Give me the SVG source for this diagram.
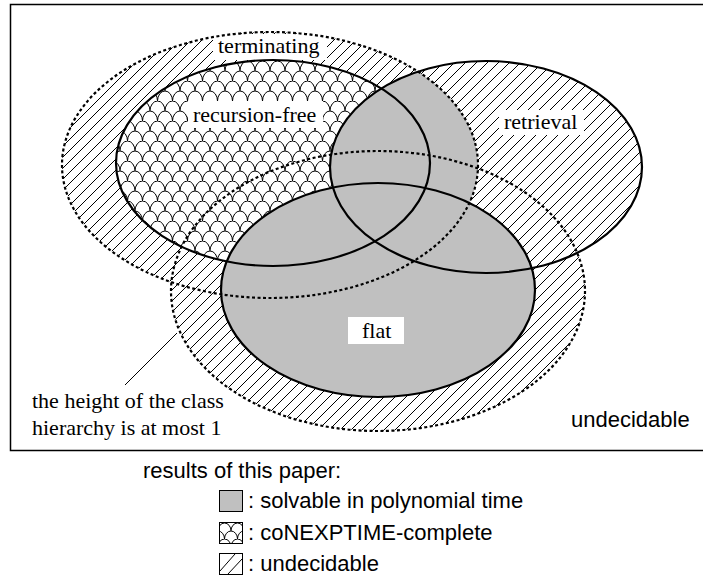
<svg xmlns="http://www.w3.org/2000/svg" width="703" height="587" viewBox="0 0 703 587">
<style>
.serif{font-family:"Liberation Serif","Times New Roman",serif;font-size:22px;fill:#000}
.sans{font-family:"Liberation Sans",Arial,sans-serif;font-size:22px;fill:#000}
.solid{fill:none;stroke:#000;stroke-width:2.2}
.dotted{fill:none;stroke:#000;stroke-width:2.2;stroke-dasharray:3 2.5}
.gray{fill:#c0c0c0}
.hatch{fill:url(#hatch)}
.scales{fill:url(#scales)}
.bg{fill:#fff}
</style>
<defs>
<pattern id="hatch" patternUnits="userSpaceOnUse" width="11" height="11">
<path d="M-1,12 L12,-1 M-1,1 L1,-1 M10,12 L12,10" stroke="#000" stroke-width="1" fill="none"/>
</pattern>
<pattern id="scales" patternUnits="userSpaceOnUse" width="15" height="20" x="0" y="1">
<rect width="15" height="20" fill="#fff"/>
<path d="M0,10 A7.5,10 0 0 1 15,10 M-7.5,20 A7.5,10 0 0 1 7.5,20 M7.5,20 A7.5,10 0 0 1 22.5,20" stroke="#000" stroke-width="1" fill="none"/>
</pattern>
<pattern id="scalesLeg" patternUnits="userSpaceOnUse" width="13" height="16" x="218" y="523">
<rect width="13" height="16" fill="#fff"/>
<path d="M0,8 A6.5,8 0 0 1 13,8 M-6.5,16 A6.5,8 0 0 1 6.5,16 M6.5,16 A6.5,8 0 0 1 19.5,16" stroke="#000" stroke-width="1" fill="none"/>
</pattern>
<clipPath id="clipTerm"><ellipse cx="270" cy="165" rx="208" ry="133"/></clipPath>
</defs>
<rect width="703" height="587" fill="#fff"/>
<rect x="10.5" y="4.5" width="700" height="446" fill="none" stroke="#000" stroke-width="1.5"/>

<g id="fills">
<ellipse class="hatch" cx="270" cy="165" rx="208" ry="133"/>
<ellipse class="hatch" cx="486" cy="167" rx="156" ry="106"/>
<ellipse class="hatch" cx="378" cy="291" rx="207" ry="140"/>
<ellipse class="scales" cx="273" cy="163" rx="157" ry="103"/>
<ellipse class="gray" cx="378" cy="290" rx="157" ry="107"/>
<ellipse class="gray" cx="486" cy="167" rx="156" ry="106" clip-path="url(#clipTerm)"/>
</g>

<g id="label-backgrounds">
<rect class="bg" x="213" y="34" width="114" height="26"/>
<rect class="bg" x="188" y="101" width="135" height="27"/>
<rect class="bg" x="499" y="110" width="85" height="25"/>
<rect class="bg" x="348" y="317" width="56" height="27"/>
</g>

<g id="terminating">
<ellipse class="dotted" cx="270" cy="165" rx="208" ry="133"/>
<text class="serif" x="218" y="53">terminating</text>
</g>
<g id="height-at-most-1">
<ellipse class="dotted" cx="378" cy="291" rx="207" ry="140"/>
<text class="serif" x="32" y="408">the height of the class</text>
<text class="serif" x="32" y="435">hierarchy is at most 1</text>
</g>
<g id="recursion-free">
<ellipse class="solid" cx="273" cy="163" rx="157" ry="103"/>
<text class="serif" x="193" y="122">recursion-free</text>
</g>
<g id="retrieval">
<ellipse class="solid" cx="486" cy="167" rx="156" ry="106"/>
<text class="serif" x="504" y="129">retrieval</text>
</g>
<g id="flat">
<ellipse class="solid" cx="378" cy="290" rx="157" ry="107"/>
<text class="serif" x="362" y="338">flat</text>
</g>
<g id="undecidable-region">
<text class="sans" x="571" y="427">undecidable</text>
</g>

<g id="connectors">
<line x1="125" y1="385" x2="177" y2="333" stroke="#000" stroke-width="1"/>
</g>

<g id="legend">
<text class="sans" x="143" y="478">results of this paper:</text>
<rect x="219.5" y="490.5" width="23" height="21" fill="#c0c0c0" stroke="#000" stroke-width="1"/>
<text class="sans" x="248" y="508">: solvable in polynomial time</text>
<rect x="219.5" y="522.5" width="23" height="21" fill="url(#scalesLeg)" stroke="#000" stroke-width="1"/>
<text class="sans" x="248" y="539.5">: coNEXPTIME-complete</text>
<rect x="219.5" y="553.5" width="23" height="21" fill="#fff" stroke="#000" stroke-width="1"/>
<path d="M220,571 L235,554 M228,574 L242,559" stroke="#000" stroke-width="1" fill="none"/>
<text class="sans" x="248" y="571">: undecidable</text>
</g>
</svg>
